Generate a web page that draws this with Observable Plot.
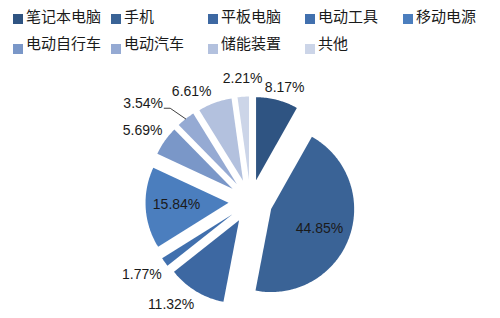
<!DOCTYPE html>
<html><head><meta charset="utf-8">
<script src="https://cdn.jsdelivr.net/npm/d3@7"></script>
<script src="https://cdn.jsdelivr.net/npm/@observablehq/plot@0.6"></script>
<style>
body{margin:0;background:#fff;width:500px;height:318px;overflow:hidden}
#legend{position:relative;height:55px;font-family:"Noto Sans CJK SC",sans-serif;font-size:15px;color:#1a1a1a}
.sw{position:absolute;width:10px;height:10px}
.tx{position:absolute;line-height:15px;white-space:nowrap}
#chart svg{display:block}
</style>
</head><body>
<div id="legend"></div>
<div id="chart"></div>
<script>
// ---- data ----
const categories = ["笔记本电脑","手机","平板电脑","电动工具","移动电源","电动自行车","电动汽车","储能装置","共他"];
const shares = [8.17, 44.85, 11.32, 1.77, 15.84, 5.69, 3.54, 6.61, 2.21];
const colors = ["#2f5482","#3a6396","#3d68a2","#4170ae","#4b7ebe","#7a97c8","#95aad3","#b3c1de","#ccd5e8"];

// ---- layout (pixels) ----
const W = 500, H = 263, CX = 250, CY = 146, R = 83, EXPLODE = 22;
const legendCols = [13, 111, 208, 305, 403];
const legendRows = [{sq: 13.5, tx: 7.8}, {sq: 43.5, tx: 35.3}];
// label placement: [angle nudge (deg), distance from centre (px)]
const labelPlace = {
  "笔记本电脑": [2, 119], "手机": [1, 74], "平板电脑": [6.4, 130], "电动工具": [1.2, 131],
  "移动电源": [1.2, 74], "电动自行车": [-2, 129], "电动汽车": [-9.4, 145.5],
  "储能装置": [-8.2, 125], "共他": [0.3, 123]
};

// legend
const leg = document.getElementById("legend");
categories.forEach((c, i) => {
  const col = i < 5 ? i : i - 5, row = legendRows[i < 5 ? 0 : 1];
  const sw = document.createElement("div");
  sw.className = "sw"; sw.style.left = legendCols[col] + "px"; sw.style.top = row.sq + "px";
  sw.style.background = colors[i];
  const tx = document.createElement("div");
  tx.className = "tx"; tx.style.left = (legendCols[col] + 13) + "px"; tx.style.top = row.tx + "px";
  tx.textContent = c;
  leg.appendChild(sw); leg.appendChild(tx);
});

// geometry in radius units
const rad = d => d * Math.PI / 180;
const ex = EXPLODE / R;
let cum = 0;
const slices = categories.map((c, i) => {
  const a0 = cum / 100 * 360; cum += shares[i]; const a1 = cum / 100 * 360;
  return {c, v: shares[i], a0, a1, m: (a0 + a1) / 2};
});
const pts = [];
slices.forEach(s => {
  const ax = ex * Math.sin(rad(s.m)), ay = ex * Math.cos(rad(s.m));
  pts.push({c: s.c, x: ax, y: ay});
  const n = Math.max(2, Math.ceil(s.a1 - s.a0));
  for (let k = 0; k <= n; k++) {
    const a = s.a0 + (s.a1 - s.a0) * k / n;
    pts.push({c: s.c, x: ax + Math.sin(rad(a)), y: ay + Math.cos(rad(a))});
  }
});
const labels = slices.map(s => {
  const [da, dist] = labelPlace[s.c];
  const a = s.m + da, r = dist / R;
  return {c: s.c, text: s.v.toFixed(2) + "%", x: r * Math.sin(rad(a)), y: r * Math.cos(rad(a)), m: s.m};
});
// leader line for 电动汽车
const lead = labels.find(l => l.c === "电动汽车");
const ls = slices.find(s => s.c === "电动汽车");
const outer = {x: (ex + 1) * Math.sin(rad(ls.m)), y: (ex + 1) * Math.cos(rad(ls.m))};
const leaderPts = [
  {x: lead.x + 21 / R, y: lead.y - 5 / R},
  {x: lead.x + 27 / R, y: lead.y - 5 / R},
  outer
];

const chart = Plot.plot({
  width: W, height: H, margin: 0,
  x: {domain: [-CX / R, (W - CX) / R], range: [0, W], axis: null},
  y: {domain: [-(H - CY) / R, CY / R], range: [H, 0], axis: null},
  color: {domain: categories, range: colors},
  style: {background: "white"},
  marks: [
    Plot.line(pts, {x: "x", y: "y", z: "c", fill: "c", stroke: "none", curve: "linear-closed"}),
    Plot.line(leaderPts, {x: "x", y: "y", stroke: "#404040", strokeWidth: 1}),
    Plot.text(labels, {x: "x", y: "y", text: "text", fontSize: 14, fontFamily: "Liberation Sans", fill: "#1a1a1a"})
  ]
});
document.getElementById("chart").appendChild(chart);
</script>
</body></html>
